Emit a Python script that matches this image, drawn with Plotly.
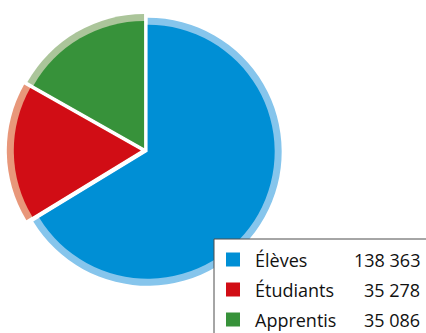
import plotly.graph_objects as go

# Data
categories = ["Élèves", "Étudiants", "Apprentis"]
values = [138363, 35278, 35086]
value_labels = ["138\u00a0363", "35\u00a0278", "35\u00a0086"]

# Styles
main_colors = ["#008fd5", "#d10d15", "#37923a"]
ring_colors = ["#86c5ec", "#e8977a", "#abc59a"]

W, H = 426, 333
cx, cy = 145.5, 150.5          # pie centre in px (from top)
r_in, r_out = 127.0, 134.0     # slice radius and ring radius in px
pull_px = [2.5, 4.7, 2.9]      # slice offsets in px


def domain_for(r, pulls_frac):
    s = r * (1 + max(pulls_frac))
    x0, x1 = (cx - s) / W, (cx + s) / W
    yc = H - cy
    y0, y1 = (yc - s) / H, (yc + s) / H
    return dict(x=[x0, x1], y=[y0, y1])


pull_out = [p / r_out for p in pull_px]
pull_in = [p / r_in for p in pull_px]

fig = go.Figure()
fig.add_trace(go.Pie(
    labels=categories, values=values, sort=False, direction="clockwise", rotation=0,
    marker=dict(colors=ring_colors, line=dict(width=0)),
    pull=pull_out, textinfo="none", hoverinfo="skip", showlegend=False,
    domain=domain_for(r_out, pull_out),
))
fig.add_trace(go.Pie(
    labels=categories, values=values, sort=False, direction="clockwise", rotation=0,
    marker=dict(colors=main_colors, line=dict(width=0)),
    pull=pull_in, textinfo="none", showlegend=False,
    domain=domain_for(r_in, pull_in),
))

# Custom legend box
box_x0, box_y0 = 214, 239
shapes = [dict(type="rect", xref="paper", yref="paper", layer="above",
               x0=box_x0 / W, x1=(W + 5) / W, y0=(H - (H + 5)) / H, y1=(H - box_y0) / H,
               line=dict(color="#4d4d4d", width=1), fillcolor="white")]
annotations = []
row_y = [259.5, 289.5, 319.5]
font = dict(family="Open Sans", size=18, color="#111111")
for i, (cat, lab) in enumerate(zip(categories, value_labels)):
    yc = row_y[i]
    shapes.append(dict(type="rect", xref="paper", yref="paper", layer="above",
                       x0=226 / W, x1=240 / W, y0=(H - (yc + 7)) / H, y1=(H - (yc - 7)) / H,
                       line=dict(color=main_colors[i], width=0), fillcolor=main_colors[i]))
    annotations.append(dict(text=cat, xref="paper", yref="paper", x=253 / W, y=(H - yc) / H,
                            xanchor="left", yanchor="middle", showarrow=False, font=font))
    annotations.append(dict(text=lab, xref="paper", yref="paper", x=422 / W, y=(H - yc) / H,
                            xanchor="right", yanchor="middle", showarrow=False, font=font))

fig.update_layout(
    width=W, height=H,
    margin=dict(l=0, r=0, t=0, b=0),
    paper_bgcolor="white", plot_bgcolor="white",
    shapes=shapes, annotations=annotations,
    showlegend=False,
)

fig.write_html("out.html")
